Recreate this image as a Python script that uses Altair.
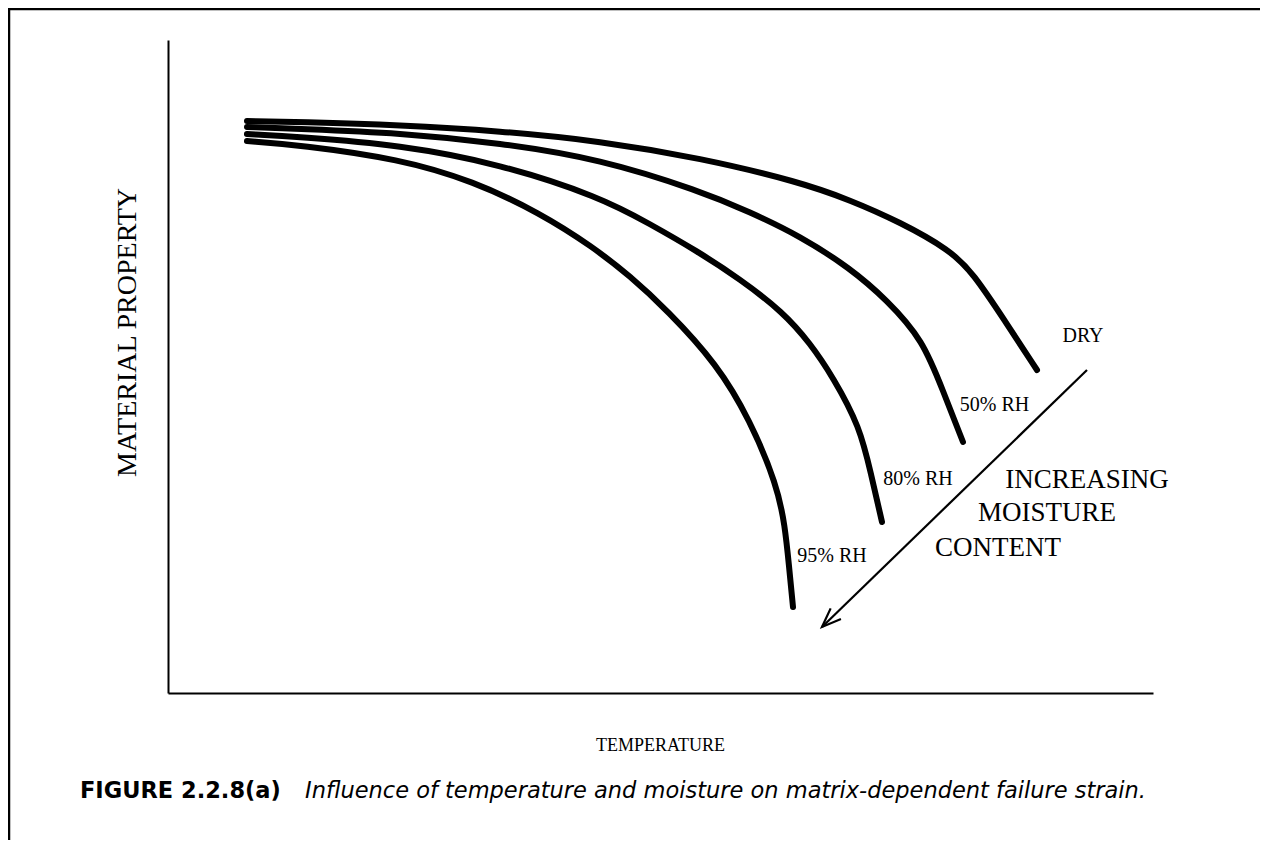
import altair as alt
import pandas as pd

# Arbitrary units (no ticks on the original axes)
dry_x = [7.9, 13.2, 23.2, 33.2, 43.2, 53.2, 63.2, 68.2, 73.2, 78.2, 80.5, 83.7, 86.9]
dry_y = [57.2, 57.1, 56.8, 56.2, 55.2, 53.5, 51.1, 49.3, 47.1, 44.3, 42.0, 37.2, 32.3]
rh50_x = [7.9, 13.2, 23.2, 33.2, 43.2, 53.2, 58.2, 63.2, 68.2, 71.9, 75.5, 77.5, 79.5]
rh50_y = [56.6, 56.4, 56.0, 55.0, 53.4, 50.2, 48.1, 45.7, 42.5, 39.3, 35.3, 30.2, 25.1]
rh80_x = [7.9, 13.2, 23.2, 33.2, 43.2, 48.2, 52.9, 57.2, 61.5, 64.2, 66.5, 69.2, 70.3, 71.4]
rh80_y = [55.9, 55.6, 54.8, 52.9, 49.6, 46.9, 44.2, 41.4, 38.1, 35.0, 31.6, 26.6, 21.9, 17.1]
rh95_x = [7.9, 13.2, 23.2, 30.5, 37.2, 42.5, 46.2, 49.9, 54.9, 58.2, 60.9, 61.7, 62.1, 62.5]
rh95_y = [55.2, 54.8, 53.4, 51.2, 48.0, 44.6, 41.7, 38.3, 32.9, 27.3, 20.8, 16.7, 12.7, 8.6]

curve_names = ["DRY", "50% RH", "80% RH", "95% RH"]

label_text = ["DRY", "50% RH", "80% RH", "95% RH"]
label_x = [91.5, 82.65, 75.0, 66.4]
label_y = [35.7, 28.8, 21.4, 13.7]

note_text = ["INCREASING", "MOISTURE", "CONTENT"]
note_x = [91.9, 87.9, 83.0]
note_y = [21.3, 18.0, 14.5]

arrow_x = [91.9, 65.4]
arrow_y = [32.3, 6.6]

X_DOMAIN = [0, 98.5]
Y_DOMAIN = [0, 65.3]

rows = []
for name, xs, ys in zip(curve_names, [dry_x, rh50_x, rh80_x, rh95_x],
                        [dry_y, rh50_y, rh80_y, rh95_y]):
    for i, (a, b) in enumerate(zip(xs, ys)):
        rows.append({"curve": name, "t": a, "p": b, "order": i})
curves_df = pd.DataFrame(rows)
labels_df = pd.DataFrame({"text": label_text, "t": label_x, "p": label_y})
notes_df = pd.DataFrame({"text": note_text, "t": note_x, "p": note_y})
arrow_df = pd.DataFrame({"t": arrow_x, "p": arrow_y, "order": [0, 1]})
tip_df = pd.DataFrame({"t": [arrow_x[1]], "p": [arrow_y[1]]})

xs = alt.Scale(domain=X_DOMAIN, nice=False, zero=False)
ys = alt.Scale(domain=Y_DOMAIN, nice=False, zero=False)

x_axis = alt.Axis(
    title="TEMPERATURE", labels=False, ticks=False, grid=False,
    domainColor="black", domainWidth=2,
    titleFont="Liberation Serif", titleFontSize=18, titleFontWeight="normal",
    titleColor="black", titleX=492, titleY=52, titleBaseline="middle",
    titleAlign="center",
)
y_axis = alt.Axis(
    title="MATERIAL    PROPERTY", labels=False, ticks=False, grid=False,
    domainColor="black", domainWidth=2,
    titleFont="Liberation Serif", titleFontSize=28, titleFontWeight="normal",
    titleColor="black", titleX=-41, titleY=292, titleAngle=-90,
    titleBaseline="middle", titleAlign="center",
)

lines = alt.Chart(curves_df).mark_line(
    color="black", strokeWidth=6, strokeCap="round", strokeJoin="round",
    interpolate="basis",
).encode(
    x=alt.X("t:Q", scale=xs, axis=x_axis),
    y=alt.Y("p:Q", scale=ys, axis=y_axis),
    detail="curve:N",
    order="order:Q",
)

labels = alt.Chart(labels_df).mark_text(
    font="Liberation Serif", fontSize=20, color="black",
    align="center", baseline="middle",
).encode(x=alt.X("t:Q", scale=xs), y=alt.Y("p:Q", scale=ys), text="text:N")

notes = alt.Chart(notes_df).mark_text(
    font="Liberation Serif", fontSize=27, color="black",
    align="center", baseline="middle",
).encode(x=alt.X("t:Q", scale=xs), y=alt.Y("p:Q", scale=ys), text="text:N")

arrow_line = alt.Chart(arrow_df).mark_line(
    color="black", strokeWidth=2.2,
).encode(x=alt.X("t:Q", scale=xs), y=alt.Y("p:Q", scale=ys), order="order:Q")

arrow_head = alt.Chart(tip_df).mark_point(
    shape="M -0.36 -0.93 L 0 0 L 0.36 -0.93", filled=False,
    color="black", strokeWidth=2.2, size=1700, angle=46, opacity=1,
).encode(x=alt.X("t:Q", scale=xs), y=alt.Y("p:Q", scale=ys))

# page frame (top and left edges visible in the original)
frame_top = alt.Chart(tip_df).mark_rule(color="black", strokeWidth=2.5).encode(
    x=alt.value(-160), x2=alt.value(1092), y=alt.value(-31)
)
frame_left = alt.Chart(tip_df).mark_rule(color="black", strokeWidth=2.5).encode(
    x=alt.value(-159), y=alt.value(-32), y2=alt.value(800)
)

caption_bold = alt.Chart(tip_df).mark_text(
    text="FIGURE 2.2.8(a)", font="DejaVu Sans", fontSize=22.5,
    fontWeight="bold", align="left", baseline="alphabetic", color="black",
).encode(x=alt.value(-88), y=alt.value(758))
caption_it = alt.Chart(tip_df).mark_text(
    text="Influence of temperature and moisture on matrix-dependent failure strain.",
    font="DejaVu Sans", fontSize=22.5, fontStyle="italic",
    align="left", baseline="alphabetic", color="black",
).encode(x=alt.value(137), y=alt.value(758))

chart = alt.layer(
    lines, labels, notes, arrow_line, arrow_head,
    frame_top, frame_left, caption_bold, caption_it,
).properties(
    width=985, height=653,
    autosize=alt.AutoSizeParams(type="none"),
    padding={"left": 160, "top": 32, "right": 107, "bottom": 147},
).configure_view(stroke=None)

chart.save("out.html", embed_options={"renderer": "svg", "actions": False})
